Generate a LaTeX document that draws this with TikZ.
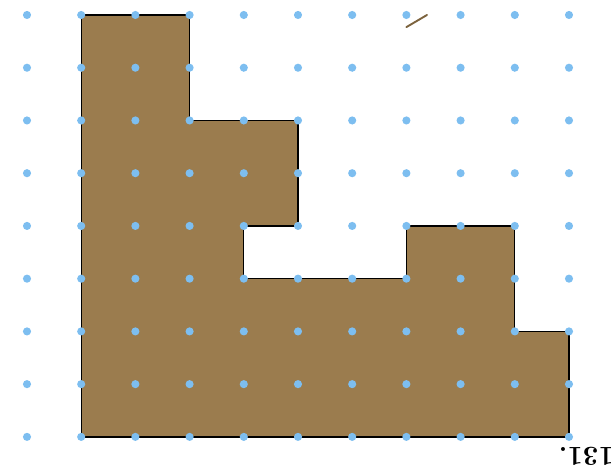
\documentclass[tikz,border=0pt]{standalone}
\usepackage{tikz}
\usetikzlibrary{positioning}
\usepackage[dvipsnames]{xcolor}
\definecolor{dotblue}{RGB}{125,190,240}
\definecolor{plotbrown}{RGB}{155,124,78}
\begin{document}
\begin{tikzpicture}[x=1cm, y=-0.973cm,
  dot/.style={circle, fill=dotblue, draw=none, inner sep=0pt, minimum size=1.5mm},
  region/.style={fill=plotbrown, draw=black, line width=0.7pt}]

                \useasboundingbox (-0.498,-0.284) rectangle (10.775,8.664);

                % the shaded region
                \draw[region] (1,0) -- (3,0) -- (3,2) -- (5,2) -- (5,4) -- (4,4) -- (4,5)
                    -- (7,5) -- (7,4) -- (9,4) -- (9,6) -- (10,6) -- (10,8) -- (1,8) -- cycle;

                % grid of dots
                \foreach \x in {0,...,10}{
                    \foreach \y in {0,...,8}{
                        \node[dot] (d\x-\y) at (\x,\y) {};
                    }
                }

                \draw[plotbrown!80!black, line width=1pt, line cap=round] (7.0,0.23) -- (7.38,0);

                \node[rotate=180, font=\Large\bfseries, inner sep=1pt] (num) at (10.32,8.36) {131.};
        \end{tikzpicture}
\end{document}
